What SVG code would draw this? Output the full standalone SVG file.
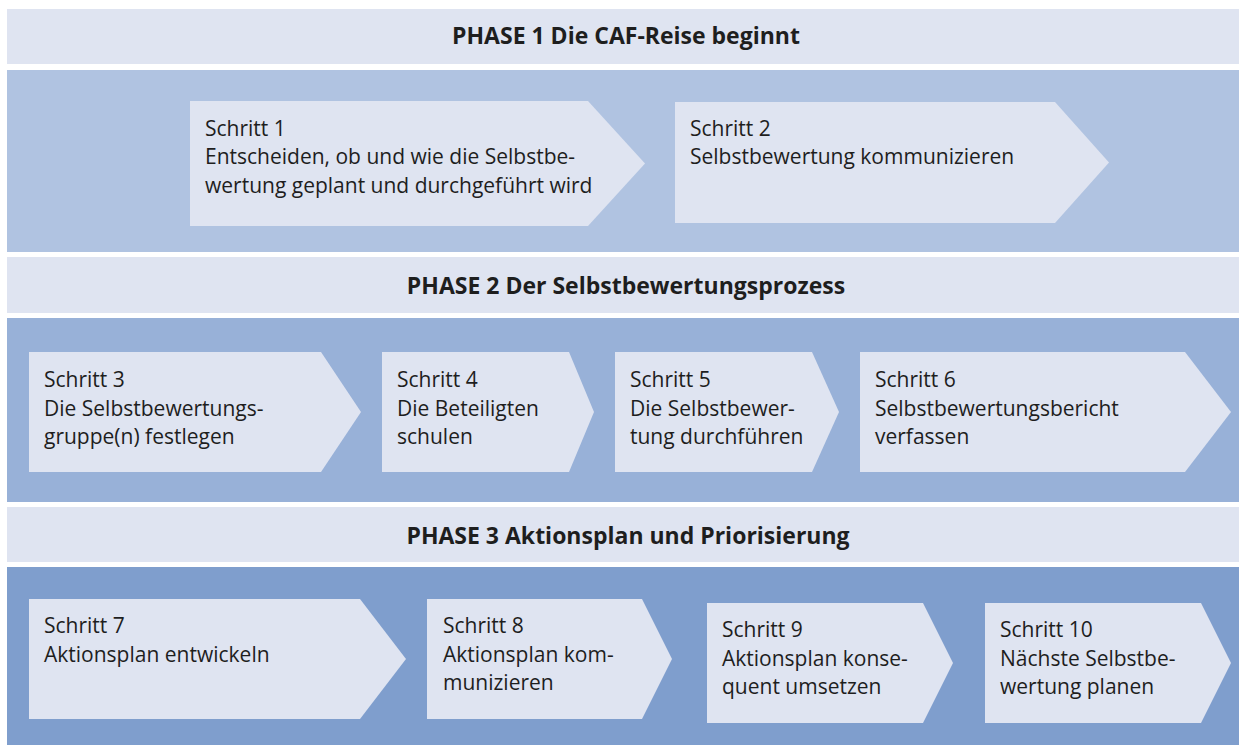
<svg xmlns="http://www.w3.org/2000/svg" width="1239" height="745" viewBox="0 0 1239 745">
<style>
.hdr{fill:#dfe4f1}
.b1{fill:#b0c3e1}
.b2{fill:#98b1d8}
.b3{fill:#7f9ecd}
.step{fill:#dfe4f1}
.ht{font-family:"Open Sans",sans-serif;font-weight:700;font-size:23px;fill:#1e1e1e;text-anchor:middle}
.st{font-family:"Open Sans",sans-serif;font-size:21px;fill:#1e1e1e}
</style>
<rect width="1239" height="745" fill="#ffffff"/>
<g id="phase1">
<rect class="hdr" x="7" y="9" width="1232" height="55"/>
<text class="ht" x="626" y="44">PHASE 1 Die CAF-Reise beginnt</text>
<rect class="b1" x="7" y="70" width="1232" height="182"/>
</g>
<g id="phase2">
<rect class="hdr" x="7" y="257" width="1232" height="56"/>
<text class="ht" x="626" y="294">PHASE 2 Der Selbstbewertungsprozess</text>
<rect class="b2" x="7" y="318" width="1232" height="184"/>
</g>
<g id="phase3">
<rect class="hdr" x="7" y="507" width="1232" height="55"/>
<text class="ht" x="628" y="544">PHASE 3 Aktionsplan und Priorisierung</text>
<rect class="b3" x="7" y="567" width="1232" height="178"/>
</g>
<g id="connectors"></g>
<g id="step1">
<polygon class="step" points="190,101 588,101 645,163.5 588,226 190,226"/>
<text class="st"><tspan x="205" y="136">Schritt 1</tspan><tspan x="205" y="164">Entscheiden, ob und wie die Selbstbe-</tspan><tspan x="205" y="193">wertung geplant und durchgeführt wird</tspan></text>
</g>
<g id="step2">
<polygon class="step" points="675,102 1055,102 1109,162.5 1055,223 675,223"/>
<text class="st"><tspan x="690" y="136">Schritt 2</tspan><tspan x="690" y="164">Selbstbewertung kommunizieren</tspan></text>
</g>
<g id="step3">
<polygon class="step" points="29,352 321,352 361,412 321,472 29,472"/>
<text class="st"><tspan x="44" y="387">Schritt 3</tspan><tspan x="44" y="416">Die Selbstbewertungs-</tspan><tspan x="44" y="444">gruppe(n) festlegen</tspan></text>
</g>
<g id="step4">
<polygon class="step" points="382,352 569,352 594,412 569,472 382,472"/>
<text class="st"><tspan x="397" y="387">Schritt 4</tspan><tspan x="397" y="416">Die Beteiligten</tspan><tspan x="397" y="444">schulen</tspan></text>
</g>
<g id="step5">
<polygon class="step" points="615,352 812,352 839,412 812,472 615,472"/>
<text class="st"><tspan x="630" y="387">Schritt 5</tspan><tspan x="630" y="416">Die Selbstbewer-</tspan><tspan x="630" y="444">tung durchführen</tspan></text>
</g>
<g id="step6">
<polygon class="step" points="860,352 1185,352 1231,412 1185,472 860,472"/>
<text class="st"><tspan x="875" y="387">Schritt 6</tspan><tspan x="875" y="416">Selbstbewertungsbericht</tspan><tspan x="875" y="444">verfassen</tspan></text>
</g>
<g id="step7">
<polygon class="step" points="29,599 360,599 406,659 360,719 29,719"/>
<text class="st"><tspan x="44" y="633">Schritt 7</tspan><tspan x="44" y="662">Aktionsplan entwickeln</tspan></text>
</g>
<g id="step8">
<polygon class="step" points="427,599 642,599 672,659 642,719 427,719"/>
<text class="st"><tspan x="443" y="633">Schritt 8</tspan><tspan x="443" y="662">Aktionsplan kom-</tspan><tspan x="443" y="690">munizieren</tspan></text>
</g>
<g id="step9">
<polygon class="step" points="707,603 923,603 953,663 923,723 707,723"/>
<text class="st"><tspan x="722" y="637">Schritt 9</tspan><tspan x="722" y="666">Aktionsplan konse-</tspan><tspan x="722" y="694">quent umsetzen</tspan></text>
</g>
<g id="step10">
<polygon class="step" points="985,603 1201,603 1231,663 1201,723 985,723"/>
<text class="st"><tspan x="1000" y="637">Schritt 10</tspan><tspan x="1000" y="666">Nächste Selbstbe-</tspan><tspan x="1000" y="694">wertung planen</tspan></text>
</g>
</svg>
